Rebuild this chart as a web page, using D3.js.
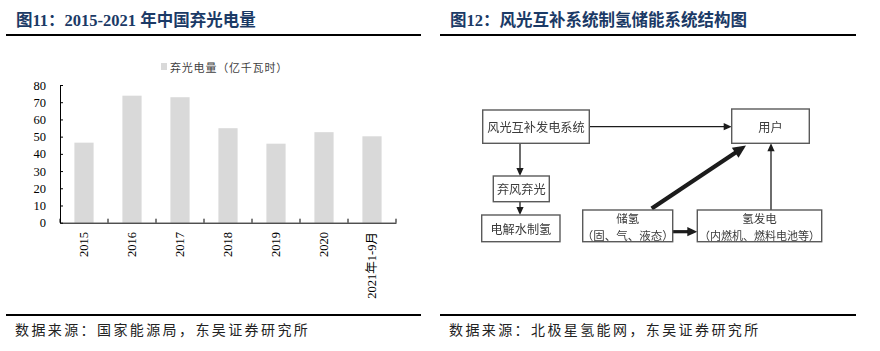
<!DOCTYPE html>
<html>
<head>
<meta charset="utf-8">
<script src="https://cdn.jsdelivr.net/npm/d3@7"></script>
<style>
  html, body { margin: 0; padding: 0; background: #fff; }
  svg { display: block; }
</style>
</head>
<body>
<svg id="page" width="880" height="351"></svg>
<script>
// Curtailed solar power in China, 2015-2021 (100 million kWh)
const categories = ["2015", "2016", "2017", "2018", "2019", "2020", "2021年1-9月"];
const curtailed = [46.5, 73.8, 72.9, 54.9, 45.9, 52.6, 50.2];
const yTicks = [0, 10, 20, 30, 40, 50, 60, 70, 80];
const seriesName = "弃光电量（亿千瓦时）";

const leftTitle = "图11：2015-2021 年中国弃光电量";
const rightTitle = "图12：风光互补系统制氢储能系统结构图";
const leftSource = "数据来源：国家能源局，东吴证券研究所";
const rightSource = "数据来源：北极星氢能网，东吴证券研究所";

// Flow diagram: node labels and links
const nodeLabels = {
  gen: ["风光互补发电系统"],
  user: ["用户"],
  waste: ["弃风弃光"],
  elec: ["电解水制氢"],
  store: ["储氢", "（固、气、液态）"],
  power: ["氢发电", "（内燃机、燃料电池等）"]
};
const links = [
  { from: "gen", to: "user", kind: "thin" },
  { from: "gen", to: "waste", kind: "thin" },
  { from: "waste", to: "elec", kind: "thin" },
  { from: "store", to: "power", kind: "thick" },
  { from: "store", to: "user", kind: "bold" },
  { from: "power", to: "user", kind: "thin" }
];

const svg = d3.select("#page");
const SERIF = "'Liberation Serif', 'Times New Roman', serif";
const CJK = "'Noto Sans CJK SC', 'Noto Sans', sans-serif";
const MIXED = "'Liberation Serif', 'Noto Sans CJK SC', serif";
const titleColor = "#1b3a66";

// ---------- panel frames: titles, rules, sources ----------
function panelFrame(x0, x1, title, source) {
  svg.append("text")
    .attr("x", x0 + 10).attr("y", 26)
    .attr("font-family", MIXED).attr("font-weight", "bold")
    .attr("font-size", 16.5).attr("fill", titleColor)
    .text(title);
  svg.append("line")
    .attr("x1", x0).attr("x2", x1).attr("y1", 35).attr("y2", 35)
    .attr("stroke", "#000").attr("stroke-width", 2.2);
  svg.append("line")
    .attr("x1", x0).attr("x2", x1).attr("y1", 315).attr("y2", 315)
    .attr("stroke", "#000").attr("stroke-width", 2.2);
  svg.append("text")
    .attr("x", x0 + 9).attr("y", 335)
    .attr("font-family", CJK).attr("font-size", 14)
    .attr("letter-spacing", 2.4).attr("fill", "#222")
    .text(source);
}
panelFrame(6, 421, leftTitle, leftSource);
panelFrame(440, 856, rightTitle, rightSource);

// ---------- bar chart ----------
const x = d3.scaleBand().domain(categories).range([60, 396]).paddingInner(0).paddingOuter(0);
const y = d3.scaleLinear().domain([0, 80]).range([222.7, 85]);
const barW = x.bandwidth() * 0.4;

const chart = svg.append("g");

chart.selectAll("rect.bar")
  .data(curtailed)
  .join("rect")
  .attr("class", "bar")
  .attr("x", (d, i) => x(categories[i]) + (x.bandwidth() - barW) / 2)
  .attr("y", d => y(d))
  .attr("width", barW)
  .attr("height", d => y(0) - y(d))
  .attr("fill", "#d9d9d9");

// y axis with inward ticks
const yAxis = chart.append("g")
  .attr("transform", "translate(60,0)")
  .call(d3.axisLeft(y).tickValues(yTicks).tickSize(-3).tickPadding(14).tickSizeOuter(0));
yAxis.select(".domain").attr("stroke", "#000");
yAxis.selectAll(".tick line").attr("stroke", "#000");
yAxis.selectAll(".tick text")
  .attr("font-family", SERIF).attr("font-size", 12.5).attr("fill", "#000");

// x axis: category boundaries marked with upward ticks
const xAxis = chart.append("g")
  .attr("transform", `translate(0,${y(0)})`)
  .call(d3.axisBottom(x).tickSize(0).tickFormat(""));
xAxis.select(".domain").attr("stroke", "#000");
const edges = categories.map(c => x(c)).concat([x.range()[1]]);
xAxis.selectAll("line.sep")
  .data(edges)
  .join("line")
  .attr("class", "sep")
  .attr("x1", d => d).attr("x2", d => d)
  .attr("y1", 0).attr("y2", -4)
  .attr("stroke", "#000");

chart.selectAll("text.cat")
  .data(categories)
  .join("text")
  .attr("class", "cat")
  .attr("transform", d => `translate(${x(d) + x.bandwidth() / 2 - 0.5},232) rotate(-90)`)
  .attr("text-anchor", "end")
  .attr("dominant-baseline", "central")
  .attr("font-family", MIXED).attr("font-size", 12.5).attr("fill", "#000")
  .text(d => d);

// legend
const legend = svg.append("g").attr("transform", "translate(161,63)");
legend.append("rect").attr("width", 6).attr("height", 7).attr("fill", "#d9d9d9");
legend.append("text")
  .attr("x", 9).attr("y", 3.8).attr("dominant-baseline", "central")
  .attr("font-family", CJK).attr("font-size", 11)
  .attr("letter-spacing", 0.8).attr("fill", "#404040")
  .text(seriesName);

// ---------- flow diagram ----------
const defs = svg.append("defs");
defs.append("filter").attr("id", "soft")
  .append("feGaussianBlur").attr("stdDeviation", 0.35);

const boxes = {
  gen:   { x: 482.7, y: 110,   w: 106.6, h: 33.3 },
  user:  { x: 731.7, y: 109,   w: 77.6,  h: 34.3 },
  waste: { x: 493.3, y: 176,   w: 56,    h: 25.7 },
  elec:  { x: 481.7, y: 215,   w: 78.3,  h: 26.7 },
  store: { x: 582.7, y: 210,   w: 90,    h: 31.7 },
  power: { x: 697.3, y: 210,   w: 124.4, h: 31.7 }
};
// link endpoints [x1, y1, x2, y2]
const linkPaths = {
  "gen-user":    [589.3, 126.7, 731.7, 126.7],
  "gen-waste":   [520, 143.3, 520, 176],
  "waste-elec":  [520, 201.7, 520, 215],
  "store-power": [672.7, 231.7, 697.3, 231.7],
  "store-user":  [651.7, 208.5, 746, 145.5],
  "power-user":  [771, 210, 771, 143.3]
};
const linkStyle = {
  thin:  { w: 1.3, head: 8,  half: 3.6 },
  thick: { w: 3.2, head: 10, half: 4.6 },
  bold:  { w: 4.2, head: 13, half: 6.0 }
};

const diag = svg.append("g").attr("filter", "url(#soft)");

diag.selectAll("g.link")
  .data(links)
  .join("g")
  .attr("class", "link")
  .each(function (d) {
    const [x1, y1, x2, y2] = linkPaths[d.from + "-" + d.to];
    const s = linkStyle[d.kind];
    const len = Math.hypot(x2 - x1, y2 - y1);
    const ux = (x2 - x1) / len, uy = (y2 - y1) / len;
    const bx = x2 - ux * s.head, by = y2 - uy * s.head;
    const g = d3.select(this);
    g.append("line")
      .attr("x1", x1).attr("y1", y1).attr("x2", bx + ux).attr("y2", by + uy)
      .attr("stroke", "#1a1a1a").attr("stroke-width", s.w);
    const pts = [
      [x2, y2],
      [bx - uy * s.half, by + ux * s.half],
      [bx + uy * s.half, by - ux * s.half]
    ];
    g.append("path")
      .attr("d", d3.line()(pts) + "Z")
      .attr("fill", "#1a1a1a");
  });

Object.keys(boxes).forEach(key => {
  const b = boxes[key];
  diag.append("rect")
    .attr("x", b.x).attr("y", b.y).attr("width", b.w).attr("height", b.h)
    .attr("fill", "#fff").attr("stroke", "#5a5a5a").attr("stroke-width", 1.4);
  const lines = nodeLabels[key];
  const cx = b.x + b.w / 2;
  if (lines.length === 1) {
    diag.append("text")
      .attr("x", cx).attr("y", b.y + b.h / 2 + 0.5)
      .attr("text-anchor", "middle").attr("dominant-baseline", "central")
      .attr("font-family", CJK).attr("font-size", 12.2).attr("fill", "#3a3a3a")
      .text(lines[0]);
  } else {
    diag.append("text")
      .attr("x", cx).attr("y", b.y + 8)
      .attr("text-anchor", "middle").attr("dominant-baseline", "central")
      .attr("font-family", CJK).attr("font-size", 11.5).attr("fill", "#3a3a3a")
      .text(lines[0]);
    diag.append("text")
      .attr("x", cx).attr("y", b.y + 25.3)
      .attr("text-anchor", "middle").attr("dominant-baseline", "central")
      .attr("font-family", CJK).attr("font-size", key === "power" ? 11 : 11.5)
      .attr("fill", "#3a3a3a")
      .text(lines[1]);
  }
});
</script>
</body>
</html>
